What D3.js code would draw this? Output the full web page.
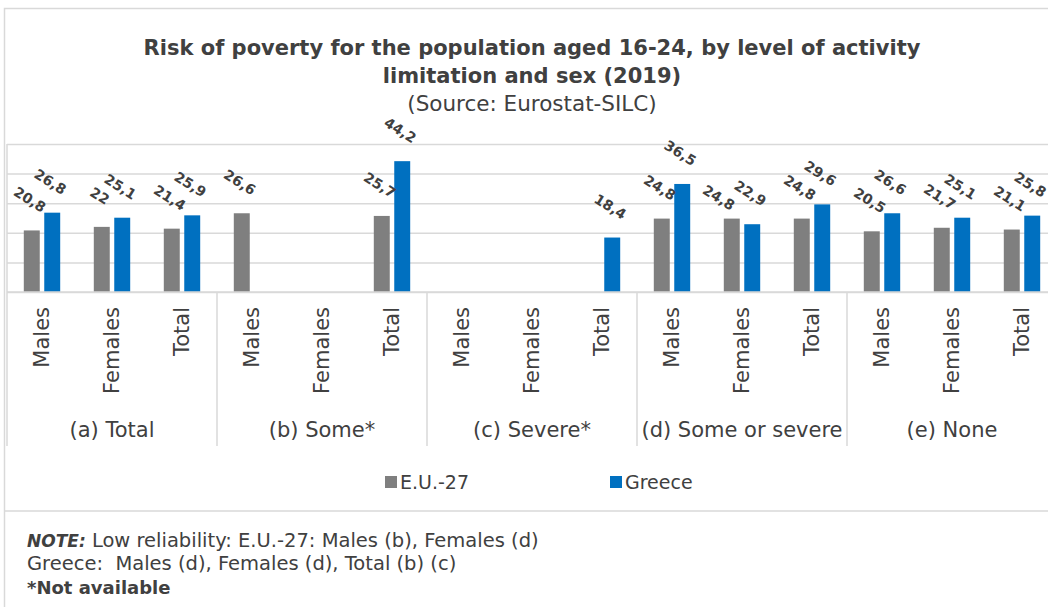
<!DOCTYPE html>
<html>
<head>
<meta charset="utf-8">
<script src="https://cdn.jsdelivr.net/npm/d3@7"></script>
<style>
  html, body { margin: 0; padding: 0; background: #fff; }
  svg { display: block; font-family: "DejaVu Sans", Verdana, sans-serif; }
  text { white-space: pre; }
</style>
</head>
<body>
<svg id="chart" width="1048" height="607"></svg>
<script>
// ---- data ----
const groups = ["(a) Total", "(b) Some*", "(c) Severe*", "(d) Some or severe", "(e) None"];
const sexes = ["Males", "Females", "Total"];
const seriesNames = ["E.U.-27", "Greece"];
const euValues = [20.8, 22, 21.4, 26.6, null, 25.7, null, null, null, 24.8, 24.8, 24.8, 20.5, 21.7, 21.1];
const greeceValues = [26.8, 25.1, 25.9, null, null, 44.2, null, null, 18.4, 36.5, 22.9, 29.6, 26.6, 25.1, 25.8];
const yTicks = [0, 10, 20, 30, 40, 50];
const colors = ["#7f7f7f", "#0070c0"];
const titleLines = ["Risk of poverty for the population aged 16-24, by level of activity", "limitation and sex (2019)"];
const subtitle = "(Source: Eurostat-SILC)";

// manual label placement tweaks (styling, not data): key = row index-series index
const labelNudge = { "10-0": [-11, 10] };

// ---- build rows ----
const rows = [];
groups.forEach((g, gi) => sexes.forEach((s, si) => {
  const i = gi * sexes.length + si;
  rows.push({ id: i, group: g, sex: s, values: [euValues[i], greeceValues[i]] });
}));

const svg = d3.select("#chart");
const textColor = "#404040";
const gridColor = "#d9d9d9";

const plotLeft = 7, plotRight = 1057, plotTop = 144, plotBottom = 292;

const x0 = d3.scaleBand().domain(rows.map(r => r.id)).range([plotLeft, plotRight]).padding(0);
const bw = x0.bandwidth();
const x1 = d3.scaleBand().domain(seriesNames).range([bw * 0.24, bw * 0.76]).paddingInner(0.22);
const y = d3.scaleLinear().domain([0, 50]).range([plotBottom, plotTop]);
const xg = d3.scaleBand().domain(groups).range([plotLeft, plotRight]).padding(0);

// outer frame
svg.append("path")
  .attr("d", `M1048,8.5 H4.5 V607`)
  .attr("fill", "none").attr("stroke", gridColor).attr("stroke-width", 1.5);
svg.append("line").attr("x1", 4.5).attr("x2", 1048).attr("y1", 511).attr("y2", 511)
  .attr("stroke", gridColor).attr("stroke-width", 1.5);

// title
const title = svg.append("text").attr("text-anchor", "middle").attr("fill", textColor);
titleLines.forEach((t, i) => {
  title.append("tspan").attr("x", 532).attr("y", 55 + i * 28)
    .attr("font-weight", "bold").attr("font-size", 21).text(t);
});
svg.append("text").attr("x", 532).attr("y", 111).attr("text-anchor", "middle")
  .attr("fill", textColor).attr("font-size", 21.5).text(subtitle);

// gridlines
const yAxis = d3.axisLeft(y).tickValues(yTicks).tickSize(-(plotRight - plotLeft)).tickFormat("");
const ga = svg.append("g").attr("transform", `translate(${plotLeft},0)`).call(yAxis);
ga.select(".domain").remove();
ga.selectAll(".tick line").attr("stroke", gridColor).attr("stroke-width", 1.5);

// bars
const barG = svg.append("g");
rows.forEach(r => {
  r.values.forEach((v, si) => {
    if (v == null) return;
    barG.append("rect")
      .attr("x", x0(r.id) + x1(seriesNames[si]))
      .attr("y", y(v))
      .attr("width", x1.bandwidth())
      .attr("height", y(0) - y(v))
      .attr("fill", colors[si]);
  });
});

// labels
const fmt = v => String(v).replace(".", ",");
rows.forEach(r => {
  r.values.forEach((v, si) => {
    if (v == null) return;
    const nudge = labelNudge[`${r.id}-${si}`] || [0, 0];
    const cx = x0(r.id) + x1(seriesNames[si]) + x1.bandwidth() / 2;
    svg.append("text")
      .attr("transform", `translate(${cx - 2 + nudge[0]},${y(v) - 31 + nudge[1]}) rotate(32)`)
      .attr("text-anchor", "middle").attr("dominant-baseline", "central")
      .attr("font-weight", "bold").attr("font-size", 14).attr("fill", textColor)
      .text(fmt(v));
  });
});

// category axis: baseline
svg.append("line").attr("x1", plotLeft).attr("x2", plotRight).attr("y1", plotBottom).attr("y2", plotBottom)
  .attr("stroke", gridColor).attr("stroke-width", 1.5);

// group separators
groups.forEach(g => {
  svg.append("line").attr("x1", xg(g)).attr("x2", xg(g)).attr("y1", plotBottom).attr("y2", 446)
    .attr("stroke", gridColor).attr("stroke-width", 1.5);
});
svg.append("line").attr("x1", plotLeft).attr("x2", plotLeft).attr("y1", plotTop).attr("y2", plotBottom)
  .attr("stroke", gridColor).attr("stroke-width", 1.5);

// sex tick labels
rows.forEach(r => {
  const cx = x0(r.id) + bw / 2;
  svg.append("text")
    .attr("transform", `translate(${cx + 7},307) rotate(-90)`)
    .attr("text-anchor", "end")
    .attr("font-size", 21).attr("fill", textColor)
    .text(r.sex);
});

// group labels
groups.forEach(g => {
  svg.append("text").attr("x", xg(g) + xg.bandwidth() / 2).attr("y", 437)
    .attr("text-anchor", "middle").attr("font-size", 21).attr("fill", textColor).text(g);
});

// legend
const legendX = [385, 610];
seriesNames.forEach((s, i) => {
  svg.append("rect").attr("x", legendX[i]).attr("y", 476).attr("width", 12).attr("height", 12).attr("fill", colors[i]);
  svg.append("text").attr("x", legendX[i] + 15).attr("y", 489).attr("font-size", 19).attr("fill", textColor).text(s);
});

// note
const note = svg.append("g").attr("fill", textColor).attr("font-size", 19.5);
const n1 = note.append("text").attr("x", 27).attr("y", 547);
n1.append("tspan").attr("font-weight", "bold").attr("font-style", "italic").attr("font-size", 17).text("NOTE:");
n1.append("tspan").text(" Low reliability: E.U.-27: Males (b), Females (d)");
note.append("text").attr("x", 27).attr("y", 570).text("Greece:  Males (d), Females (d), Total (b) (c)");
note.append("text").attr("x", 27).attr("y", 594).attr("font-weight", "bold").attr("font-size", 18).text("*Not available");
</script>
</body>
</html>
